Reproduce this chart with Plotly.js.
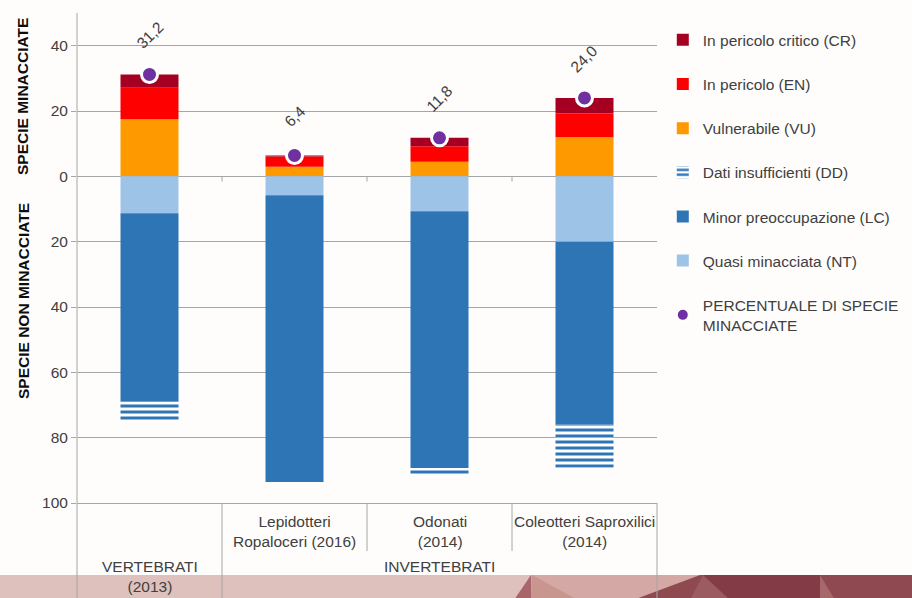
<!DOCTYPE html>
<html>
<head>
<meta charset="utf-8">
<script src="https://cdn.plot.ly/plotly-3.0.1.min.js"></script>
<style>html,body{margin:0;padding:0;background:#FEFDFC;}#chart{width:912px;height:598px;}</style>
</head>
<body>
<div id="chart"></div>
<script>
// ---- Data ----
const categories = ['VERTEBRATI (2013)', 'Lepidotteri Ropaloceri (2016)', 'Odonati (2014)', 'Coleotteri Saproxilici (2014)'];
const tickLabels = ['', 'Lepidotteri<br>Ropaloceri (2016)', 'Odonati<br>(2014)', 'Coleotteri Saproxilici<br>(2014)'];
const groupLabels = ['VERTEBRATI<br>(2013)', 'INVERTEBRATI'];
const groupMembers = [[0], [1, 2, 3]];

// threatened species (%), stacked upwards
const vulnerabile = [17.5, 2.9, 4.5, 12.0];   // VU
const inPericolo = [9.6, 3.2, 4.7, 7.2];      // EN
const pericoloCritico = [4.1, 0.3, 2.6, 4.8]; // CR
// non-threatened species (%), stacked downwards
const quasiMinacciata = [11.3, 5.8, 10.7, 20.0];     // NT
const minorPreoccupazione = [57.7, 87.8, 78.6, 56.0]; // LC
const datiInsufficienti = [6.0, 0.0, 2.1, 13.2];      // DD
// percentage of threatened species
const percentuale = [31.2, 6.4, 11.8, 24.0];

const yTickVals = [-100, -80, -60, -40, -20, 0, 20, 40];
const yTickText = ['100', '80', '60', '40', '20', '0', '20', '40'];

// ---- Layout helpers ----
const L = 77, T = 13, PW = 580, PH = 490;
const px = v => (v - L) / PW;
const py = v => (T + PH - v) / PH;
const neg = a => a.map(v => -v);
const txtColor = '#404040';
const gridColor = '#A6A6A6';
const FONT = 'Liberation Sans, Arial, sans-serif';
const FS = 15.5;

const traces = [
  {type: 'bar', name: 'Vulnerabile (VU)', x: categories, y: vulnerabile, marker: {color: '#FF9900'}, legendrank: 3, legendgroup: 'g3'},
  {type: 'bar', name: 'In pericolo (EN)', x: categories, y: inPericolo, marker: {color: '#FF0000'}, legendrank: 2, legendgroup: 'g2'},
  {type: 'bar', name: 'In pericolo critico (CR)', x: categories, y: pericoloCritico, marker: {color: '#A50021'}, legendrank: 1, legendgroup: 'g1'},
  {type: 'bar', name: 'Quasi minacciata (NT)', x: categories, y: neg(quasiMinacciata), marker: {color: '#9DC3E6'}, legendrank: 6, legendgroup: 'g6'},
  {type: 'bar', name: 'Minor preoccupazione (LC)', x: categories, y: neg(minorPreoccupazione), marker: {color: '#2E75B6'}, legendrank: 5, legendgroup: 'g5'},
  {type: 'bar', name: 'Dati insufficienti (DD)', x: categories, y: neg(datiInsufficienti),
    marker: {color: '#FFFFFF', pattern: {shape: '-', fgcolor: '#2E75B6', bgcolor: '#FFFFFF', size: 6, solidity: 0.5, fillmode: 'replace'}},
    legendrank: 4, legendgroup: 'g4'},
  {type: 'scatter', mode: 'markers', name: 'PERCENTUALE DI SPECIE<br>MINACCIATE', x: categories, y: percentuale,
    marker: {color: '#7030A0', size: 16, line: {color: '#FFFFFF', width: 3}}, legendrank: 7, legendgroup: 'g7'}
];

const annotations = [];
percentuale.forEach((v, i) => {
  annotations.push({x: categories[i], y: v, xref: 'x', yref: 'y', text: v.toFixed(1).replace('.', ','),
    showarrow: false, textangle: -45, yshift: 39, xanchor: 'center', yanchor: 'middle',
    font: {size: FS, color: txtColor, family: FONT}});
});
tickLabels.forEach((t, i) => {
  if (t) annotations.push({x: categories[i], y: py(531), xref: 'x', yref: 'paper', text: t, showarrow: false,
    xanchor: 'center', yanchor: 'middle', font: {size: FS, color: txtColor, family: FONT}});
});
groupLabels.forEach((g, gi) => {
  const m = groupMembers[gi];
  const c = (m[0] + m[m.length - 1]) / 2;
  annotations.push({x: c, y: py(566), xref: 'x', yref: 'paper', text: g, showarrow: false,
    xanchor: 'center', yanchor: 'top', yshift: 10, font: {size: FS, color: txtColor, family: FONT}});
});
annotations.push({x: px(23), y: py(97), xref: 'paper', yref: 'paper', text: '<b>SPECIE MINACCIATE</b>', showarrow: false,
  textangle: -90, xanchor: 'center', yanchor: 'middle', font: {size: FS, color: '#0D0D0D', family: FONT}});
annotations.push({x: px(23), y: py(301), xref: 'paper', yref: 'paper', text: '<b>SPECIE NON MINACCIATE</b>', showarrow: false,
  textangle: -90, xanchor: 'center', yanchor: 'middle', font: {size: FS, color: '#0D0D0D', family: FONT}});

const shapes = [];
// bottom decorative band
const poly = (pts, color) => ({type: 'path', xref: 'paper', yref: 'paper', layer: 'below', line: {width: 0}, fillcolor: color,
  path: 'M' + pts.map(p => px(p[0]) + ',' + py(p[1])).join('L') + 'Z'});
shapes.push(poly([[0, 575], [912, 575], [912, 600], [0, 600]], '#DEC0BC'));
shapes.push(poly([[531, 575], [700, 575], [633, 600], [531, 600]], '#D4A8A4'));
shapes.push(poly([[531, 575], [514, 600], [531, 600]], '#A8666B'));
shapes.push(poly([[532, 575], [531, 600], [578, 600]], '#C8958F'));
shapes.push(poly([[700, 575], [912, 575], [912, 600], [633, 600]], '#8E4A50'));
shapes.push(poly([[703, 575], [820, 575], [820, 600], [730, 600]], '#833B45'));
shapes.push(poly([[703, 575], [730, 600], [690, 600]], '#9B5B60'));
shapes.push(poly([[820, 575], [835, 600], [820, 600]], '#A8676B'));
// axis / divider lines
const vline = (x, xref, y0, y1) => ({type: 'line', xref: xref, yref: 'paper', x0: x, x1: x, y0: y0, y1: y1, layer: 'above',
  line: {color: gridColor, width: 1}});
shapes.push(vline(0, 'paper', 1, py(598)));
shapes.push(vline(1, 'paper', 0, py(598)));
shapes.push(vline(0.5, 'x', 0, py(598)));
shapes.push(vline(1.5, 'x', 0, py(551)));
shapes.push(vline(2.5, 'x', 0, py(551)));
// small tick marks on the zero line between categories
[0.5, 1.5, 2.5].forEach(x => shapes.push({type: 'line', xref: 'x', yref: 'y', x0: x, x1: x, y0: 0, y1: -1.6,
  line: {color: gridColor, width: 1}}));

const layout = {
  width: 912, height: 598,
  margin: {l: L, r: 912 - L - PW, t: T, b: 598 - T - PH, pad: 0, autoexpand: false},
  paper_bgcolor: '#FEFDFC', plot_bgcolor: '#FEFDFC',
  font: {family: FONT, color: txtColor, size: FS},
  barmode: 'relative', bargap: 0.6,
  showlegend: true,
  legend: {x: 1.01, xanchor: 'left', y: 0.979, yanchor: 'top', font: {size: FS, color: txtColor, family: FONT},
    tracegroupgap: 21, bgcolor: 'rgba(0,0,0,0)', itemsizing: 'constant'},
  xaxis: {type: 'category', categoryorder: 'array', categoryarray: categories, showticklabels: false, ticks: '',
    showgrid: false, showline: true, linecolor: gridColor, linewidth: 1, zeroline: false, fixedrange: true},
  yaxis: {range: [-100, 50], tickvals: yTickVals, ticktext: yTickText, ticks: 'outside', ticklen: 5, tickcolor: gridColor,
    tickfont: {size: FS, color: txtColor, family: FONT}, showgrid: true, gridcolor: gridColor, gridwidth: 1,
    zeroline: true, zerolinecolor: gridColor, zerolinewidth: 1, showline: false, fixedrange: true, automargin: false},
  annotations: annotations,
  shapes: shapes
};

Plotly.newPlot('chart', traces, layout, {displayModeBar: false, staticPlot: true});
</script>
</body>
</html>
